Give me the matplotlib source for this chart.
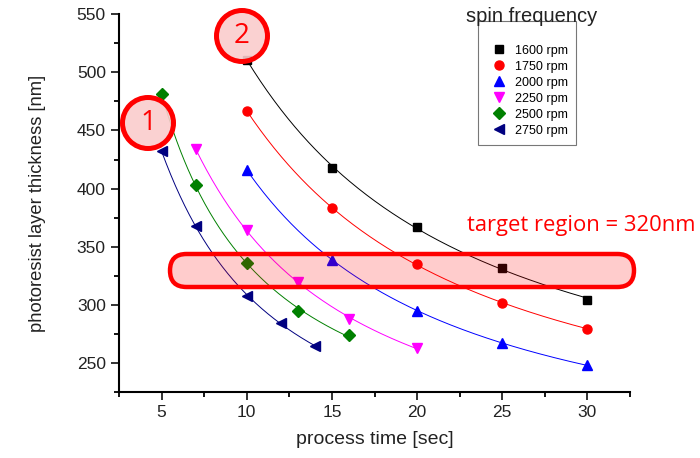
import numpy as np
import matplotlib
matplotlib.use('Agg')
import matplotlib.pyplot as plt
from matplotlib.patches import Circle, FancyBboxPatch
from matplotlib.ticker import MultipleLocator

plt.rcParams['font.family'] = ['Liberation Sans', 'DejaVu Sans']

# data (process time [s], thickness [nm])
labels = ['1600 rpm', '1750 rpm', '2000 rpm', '2250 rpm', '2500 rpm', '2750 rpm']
t_1600 = [10, 15, 20, 25, 30]
d_1600 = [511, 418, 367, 332, 304]
t_1750 = [10, 15, 20, 25, 30]
d_1750 = [467, 383, 335, 302, 279]
t_2000 = [10, 15, 20, 25, 30]
d_2000 = [416, 339, 295, 267, 248]
t_2250 = [7, 10, 13, 16, 20]
d_2250 = [434, 364, 320, 288, 263]
t_2500 = [5, 7, 10, 13, 16]
d_2500 = [481, 403, 336, 295, 274]
t_2750 = [5, 7, 10, 12, 14]
d_2750 = [432, 368, 308, 284, 265]

series = [(t_1600, d_1600), (t_1750, d_1750), (t_2000, d_2000),
          (t_2250, d_2250), (t_2500, d_2500), (t_2750, d_2750)]
colors = ['black', 'red', 'blue', 'magenta', 'green', 'navy']
markers = ['s', 'o', '^', 'v', 'D', '<']
msizes = [6, 6.5, 7, 7, 6, 7]

fig = plt.figure(figsize=(7, 4.58), dpi=100)
ax = fig.add_axes([0.170, 0.144, 0.730, 0.825])

for (t, d), c, m, ms, lab in zip(series, colors, markers, msizes, labels):
    t = np.array(t, dtype=float)
    d = np.array(d, dtype=float)
    # smooth fit d = a + b/t + c/t^2 like the original fit curves
    coef = np.polyfit(1.0 / t, d, 2)
    tt = np.linspace(t.min(), t.max(), 200)
    ax.plot(tt, np.polyval(coef, 1.0 / tt), color=c, lw=0.7, zorder=2)
    ax.plot(t, d, ls='none', marker=m, color=c, ms=ms, label=lab, zorder=3)

ax.set_xlim(2.5, 32.5)
ax.set_ylim(225, 550)
ax.xaxis.set_major_locator(MultipleLocator(5))
ax.xaxis.set_minor_locator(MultipleLocator(2.5))
ax.yaxis.set_major_locator(MultipleLocator(50))
ax.yaxis.set_minor_locator(MultipleLocator(25))
ax.spines['top'].set_visible(False)
ax.spines['right'].set_visible(False)
for s in ['left', 'bottom']:
    ax.spines[s].set_linewidth(1.5)
ax.tick_params(which='major', direction='out', length=6, width=1.3, labelsize=12.5, colors='#222222')
ax.tick_params(which='minor', direction='out', length=3.5, width=1.3)
ax.set_xlabel('process time [sec]', fontsize=14, color='#222222', labelpad=8)
ax.set_ylabel('photoresist layer thickness [nm]', fontsize=13.2, color='#222222', labelpad=22)

leg = ax.legend(loc='upper left', bbox_to_anchor=(0.703, 0.983), fontsize=9,
                frameon=True, fancybox=False, edgecolor='#555555',
                handlelength=2.0, handletextpad=0.3, labelspacing=0.32,
                borderpad=0.65, borderaxespad=0, markerscale=1.0,
                title=' ', title_fontsize=8.5)
leg.get_frame().set_linewidth(0.8)
fig.text(0.760, 0.965, 'spin frequency', ha='center', va='center', fontsize=14.5, color='#222222')

# red annotations (drawn in inches so circles stay round)
H = 4.58
pink = (1.0, 0.0, 0.0, 0.2)
rect = FancyBboxPatch((1.70, H - 2.87), 4.64, 0.33,
                      boxstyle='round,pad=0,rounding_size=0.165',
                      transform=fig.dpi_scale_trans, facecolor=pink,
                      edgecolor='red', lw=3.2, zorder=5)
fig.add_artist(rect)
for (cx, cy), num in [((1.48, 1.23), '1'), ((2.42, 0.36), '2')]:
    circ = Circle((cx, H - cy), 0.255, transform=fig.dpi_scale_trans,
                  facecolor=(0.98, 0.80, 0.80, 0.9), edgecolor='red', lw=3.6, zorder=5)
    fig.add_artist(circ)
    fig.text(cx / 7, (H - cy) / H, num, ha='center', va='center', fontsize=20,
             color='red', zorder=6, family=['Open Sans', 'DejaVu Sans'])

fig.text(0.667, 0.507, 'target region = 320nm', ha='left', va='center', fontsize=15.8,
         color='red', family=['Open Sans', 'DejaVu Sans'])

fig.savefig('out.png', dpi=100)
